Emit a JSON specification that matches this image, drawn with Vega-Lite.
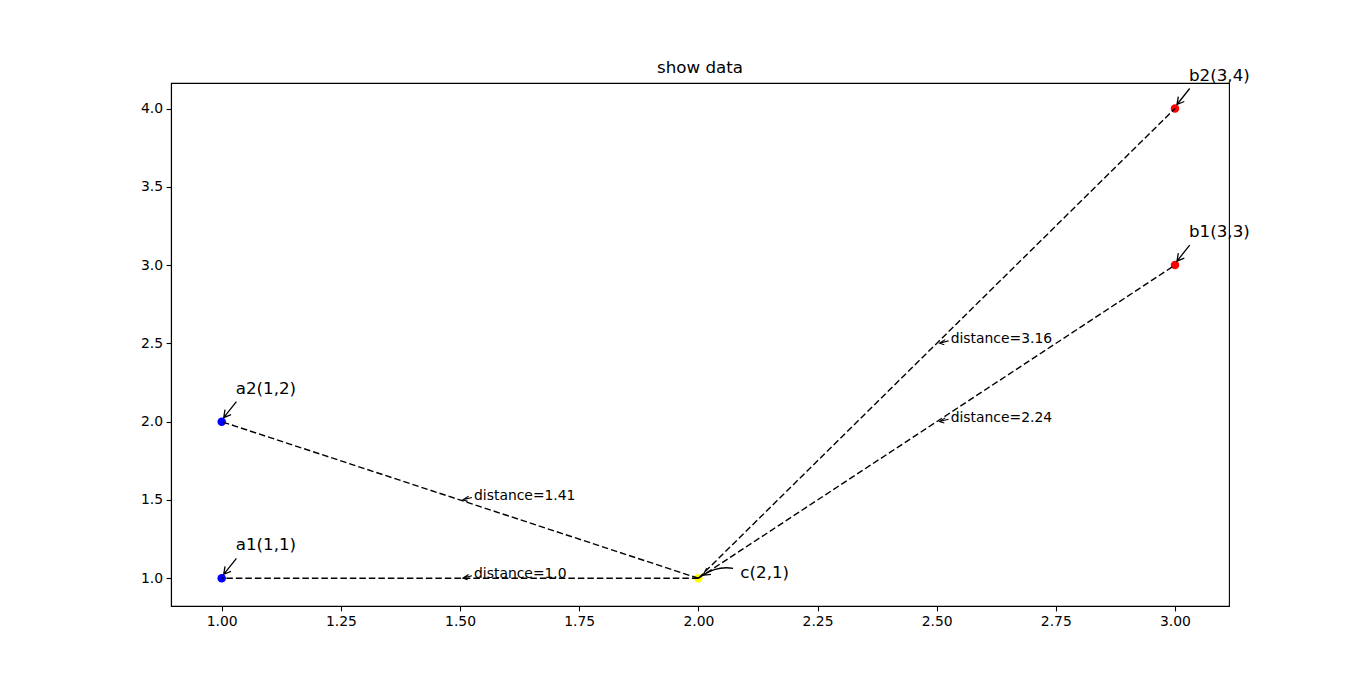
{
  "$schema": "https://vega.github.io/schema/vega-lite/v6.json",
  "autosize": "none",
  "padding": {"left": 171, "top": 83, "right": 137, "bottom": 75},
  "width": 1058,
  "height": 523,
  "background": "white",
  "config": {
    "font": "DejaVu Sans",
    "view": {"stroke": "black", "strokeWidth": 1.1},
    "axis": {
      "grid": false,
      "domainColor": "black",
      "domainWidth": 1.1,
      "tickColor": "black",
      "tickWidth": 1.1,
      "tickSize": 4.9,
      "labelPadding": 3.5,
      "labelColor": "black",
      "labelFont": "DejaVu Sans",
      "labelFontSize": 13.9,
      "title": null
    }
  },
  "title": {
    "text": "show data",
    "fontSize": 16.7,
    "fontWeight": "normal",
    "font": "DejaVu Sans",
    "color": "black",
    "anchor": "middle",
    "baseline": "alphabetic",
    "offset": -22.5
  },
  "datasets": {
    "points": [
      {"name": "a1", "x": 1, "y": 1, "cls": "a", "label": "a1(1,1)"},
      {"name": "a2", "x": 1, "y": 2, "cls": "a", "label": "a2(1,2)"},
      {"name": "b1", "x": 3, "y": 3, "cls": "b", "label": "b1(3,3)"},
      {"name": "b2", "x": 3, "y": 4, "cls": "b", "label": "b2(3,4)"},
      {"name": "c", "x": 2, "y": 1, "cls": "c", "label": "c(2,1)"}
    ],
    "links": [
      {"x": 2, "y": 1, "x2": 1, "y2": 1, "mx": 1.5, "my": 1.0, "label": "distance=1.0"},
      {"x": 2, "y": 1, "x2": 1, "y2": 2, "mx": 1.5, "my": 1.5, "label": "distance=1.41"},
      {"x": 2, "y": 1, "x2": 3, "y2": 3, "mx": 2.5, "my": 2.0, "label": "distance=2.24"},
      {"x": 2, "y": 1, "x2": 3, "y2": 4, "mx": 2.5, "my": 2.5, "label": "distance=3.16"}
    ]
  },
  "layer": [
    {
      "data": {"name": "points"},
      "mark": {"type": "point", "filled": true, "shape": "circle", "size": 72, "opacity": 1},
      "encoding": {
        "x": {"field": "x", "type": "quantitative", "scale": {"domain": [0.8936, 3.1133], "nice": false, "zero": false},
              "axis": {"values": [1, 1.25, 1.5, 1.75, 2, 2.25, 2.5, 2.75, 3], "format": ".2f"}},
        "y": {"field": "y", "type": "quantitative", "scale": {"domain": [0.823, 4.163], "nice": false, "zero": false},
              "axis": {"values": [1, 1.5, 2, 2.5, 3, 3.5, 4], "format": ".1f"}},
        "color": {"field": "cls", "type": "nominal", "legend": null,
                  "scale": {"domain": ["a", "b", "c"], "range": ["#0000ff", "#ff0000", "#ffff00"]}}
      }
    },
    {
      "data": {"name": "links"},
      "mark": {"type": "rule", "color": "black", "strokeWidth": 1.4, "strokeDash": [6.5, 3]},
      "encoding": {
        "x": {"field": "x", "type": "quantitative"},
        "y": {"field": "y", "type": "quantitative"},
        "x2": {"field": "x2"},
        "y2": {"field": "y2"}
      }
    },
    {
      "data": {"name": "points"},
      "transform": [{"filter": "datum.name != 'c'"}],
      "mark": {"type": "point", "filled": false, "shape": "M14.7,-20L2,-4M9.3,-7L2,-4L3.3,-12", "size": 4, "stroke": "black", "strokeWidth": 1.3, "opacity": 1},
      "encoding": {
        "x": {"field": "x", "type": "quantitative"},
        "y": {"field": "y", "type": "quantitative"}
      }
    },
    {
      "data": {"name": "points"},
      "transform": [{"filter": "datum.name == 'c'"}],
      "mark": {"type": "point", "filled": false, "shape": "M34.7,-10Q18.3,-12.5,4.7,-3M12.6,-4L4.7,-3L8.4,-10", "size": 4, "stroke": "black", "strokeWidth": 1.3, "opacity": 1},
      "encoding": {
        "x": {"field": "x", "type": "quantitative"},
        "y": {"field": "y", "type": "quantitative"}
      }
    },
    {
      "data": {"name": "points"},
      "transform": [{"filter": "datum.name != 'c'"}],
      "mark": {"type": "text", "align": "left", "baseline": "alphabetic", "dx": 14, "dy": -28, "fontSize": 16.7, "color": "black", "font": "DejaVu Sans"},
      "encoding": {
        "x": {"field": "x", "type": "quantitative"},
        "y": {"field": "y", "type": "quantitative"},
        "text": {"field": "label"}
      }
    },
    {
      "data": {"name": "points"},
      "transform": [{"filter": "datum.name == 'c'"}],
      "mark": {"type": "text", "align": "left", "baseline": "alphabetic", "dx": 42, "dy": 0, "fontSize": 16.7, "color": "black", "font": "DejaVu Sans"},
      "encoding": {
        "x": {"field": "x", "type": "quantitative"},
        "y": {"field": "y", "type": "quantitative"},
        "text": {"field": "label"}
      }
    },
    {
      "data": {"name": "links"},
      "mark": {"type": "point", "filled": false, "shape": "M11.9,-2.5L2.8,-0.2M8.6,-3.8L2.8,-0.2L7.6,1.4", "size": 4, "stroke": "black", "strokeWidth": 1.1, "opacity": 1},
      "encoding": {
        "x": {"field": "mx", "type": "quantitative"},
        "y": {"field": "my", "type": "quantitative"}
      }
    },
    {
      "data": {"name": "links"},
      "mark": {"type": "text", "align": "left", "baseline": "alphabetic", "dx": 14, "dy": 0, "fontSize": 13.9, "color": "black", "font": "DejaVu Sans"},
      "encoding": {
        "x": {"field": "mx", "type": "quantitative"},
        "y": {"field": "my", "type": "quantitative"},
        "text": {"field": "label"}
      }
    }
  ]
}
